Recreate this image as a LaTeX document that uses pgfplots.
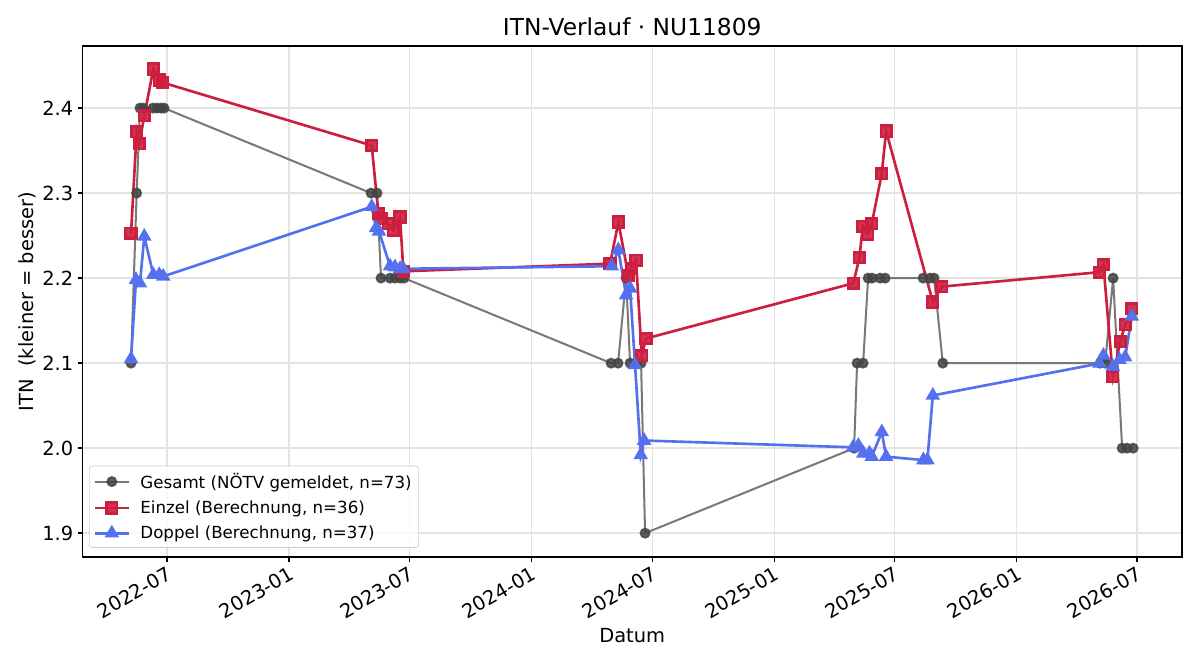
\documentclass[border=0pt]{standalone}
\usepackage{fontspec}
\setmainfont{DejaVu Sans}
\usepackage{pgfplots}
\pgfplotsset{compat=1.18}
\definecolor{cgray}{HTML}{787878}
\definecolor{cgraym}{HTML}{444444}
\definecolor{cred}{HTML}{CC1F3F}
\definecolor{cblue}{HTML}{5470EE}
\definecolor{cgrid}{HTML}{E3E3E3}
\begin{document}
\begin{tikzpicture}
\path[use as bounding box] (-59.4pt,-74.16pt) rectangle (804.6pt,401.04pt);
\begin{axis}[
  at={(0,0)}, anchor=south west,
  scale only axis, width=791.6pt, height=367.9pt,
  xmin=53.7, xmax=1710, ymin=1.872, ymax=2.473,
  xtick={181,365,546,730,912,1096,1277,1461,1642},
  xticklabels={2022-07,2023-01,2023-07,2024-01,2024-07,2025-01,2025-07,2026-01,2026-07},
  xticklabel style={rotate=30, anchor=north east, font=\fontsize{14}{16}\selectfont, inner sep=2pt},
  ytick={1.9,2.0,2.1,2.2,2.3,2.4},
  yticklabel style={/pgf/number format/fixed, /pgf/number format/precision=1, /pgf/number format/fixed zerofill, font=\fontsize{14}{16}\selectfont, inner sep=3pt},
  /pgf/number format/assume math mode=true,
  tick pos=left, tick align=outside, major tick length=3.5pt,
  tick style={black, line width=1pt},
  axis line style={black, line width=1pt},
  grid=major, grid style={cgrid, line width=1pt},
  title={ITN-Verlauf · NU11809},
  title style={font=\fontsize{16.8}{19}\selectfont, yshift=-2pt},
  xlabel={Datum}, ylabel={ITN\ \ (kleiner = besser)},
  label style={font=\fontsize{14}{16}\selectfont},
  ylabel style={yshift=-2pt},
  legend style={at={(0.006,0.018)}, anchor=south west, draw=black!20, rounded corners=2pt, fill=white, fill opacity=0.8, text opacity=1, font=\fontsize{12}{14}\selectfont, row sep=3.5pt, inner sep=3pt},
  legend cell align=left,
  legend image code/.code={\draw[mark repeat=2,mark phase=2] plot coordinates {(0cm,0cm) (0.43cm,0cm) (0.86cm,0cm)}; \path (1.05cm,0cm);},
]
\addplot[cgray, line width=1.45pt, mark=*, mark size=3.2pt, mark options={draw=cgraym, fill=cgraym, draw opacity=0.85, fill opacity=0.85}] coordinates {
(126.8,2.1) (135.3,2.3) (140.3,2.4) (144.8,2.4) (159.9,2.4) (165.9,2.4) (172,2.4) (176.5,2.4)
(488.4,2.3) (497.4,2.3) (503.4,2.2) (517,2.2) (524.5,2.2) (532.1,2.2) (538.1,2.2)
(850,2.1) (860.5,2.1) (872.6,2.2) (878.6,2.1) (887.6,2.1) (895.2,2.1) (901.2,1.9)
(1216.1,2.0) (1220.6,2.1) (1229.7,2.1) (1237.2,2.2) (1243.2,2.2) (1255.3,2.2) (1262.8,2.2)
(1320.1,2.2) (1330.6,2.2) (1336.6,2.2) (1349.7,2.1)
(1586.7,2.1) (1594.3,2.1) (1606.3,2.2) (1619.9,2.0) (1627.4,2.0) (1636.5,2.0)
};
\addlegendentry{Gesamt (NÖTV gemeldet, n=73)}
\addplot[cred, line width=1.9pt, mark=square*, mark size=3.8pt, mark options={fill=cred, fill opacity=0.9}] coordinates {
(126.8,2.2526) (135.3,2.372) (139.3,2.358) (146.8,2.391) (160.4,2.446) (169.4,2.433) (174.5,2.430)
(489.4,2.356) (499.4,2.276) (504.5,2.270) (514.4,2.264) (522,2.256) (532.1,2.272) (537.1,2.208)
(848.5,2.217) (861,2.266) (876,2.203) (881.2,2.211) (887.6,2.221) (896.2,2.109) (902.7,2.129)
(1215,2.194) (1224.1,2.224) (1229.2,2.261) (1236.7,2.252) (1242.7,2.264) (1257.8,2.323) (1264.3,2.373) (1334.7,2.172) (1348.3,2.190)
(1585.7,2.207) (1591.7,2.216) (1605.9,2.084) (1616.9,2.125) (1624.4,2.145) (1634.5,2.164)
};
\addlegendentry{Einzel (Berechnung, n=36)}
\addplot[cblue, line width=1.9pt, mark=triangle*, mark size=4.2pt, mark options={fill=cblue, fill opacity=0.9}] coordinates {
(126.8,2.105) (134.3,2.198) (140.3,2.194) (146.8,2.249) (160.4,2.204) (169.4,2.204) (175.4,2.202)
(489.4,2.284) (495.9,2.259) (500.4,2.255) (517,2.214) (524.5,2.213) (532.1,2.211) (537.1,2.211)
(851,2.214) (861,2.233) (872.6,2.180) (878.6,2.188) (886.1,2.098) (894.7,1.992) (899.7,2.009)
(1214.6,2.001) (1222.6,2.003) (1230.1,1.994) (1239.2,1.994) (1242.7,1.990) (1257.8,2.019) (1264.3,1.990) (1320.5,1.986) (1326.5,1.986) (1334.7,2.062)
(1585.7,2.0996) (1591.7,2.109) (1605.9,2.096) (1615.8,2.104) (1624.4,2.107) (1634.5,2.155)
};
\addlegendentry{Doppel (Berechnung, n=37)}
\end{axis}
\end{tikzpicture}
\end{document}
